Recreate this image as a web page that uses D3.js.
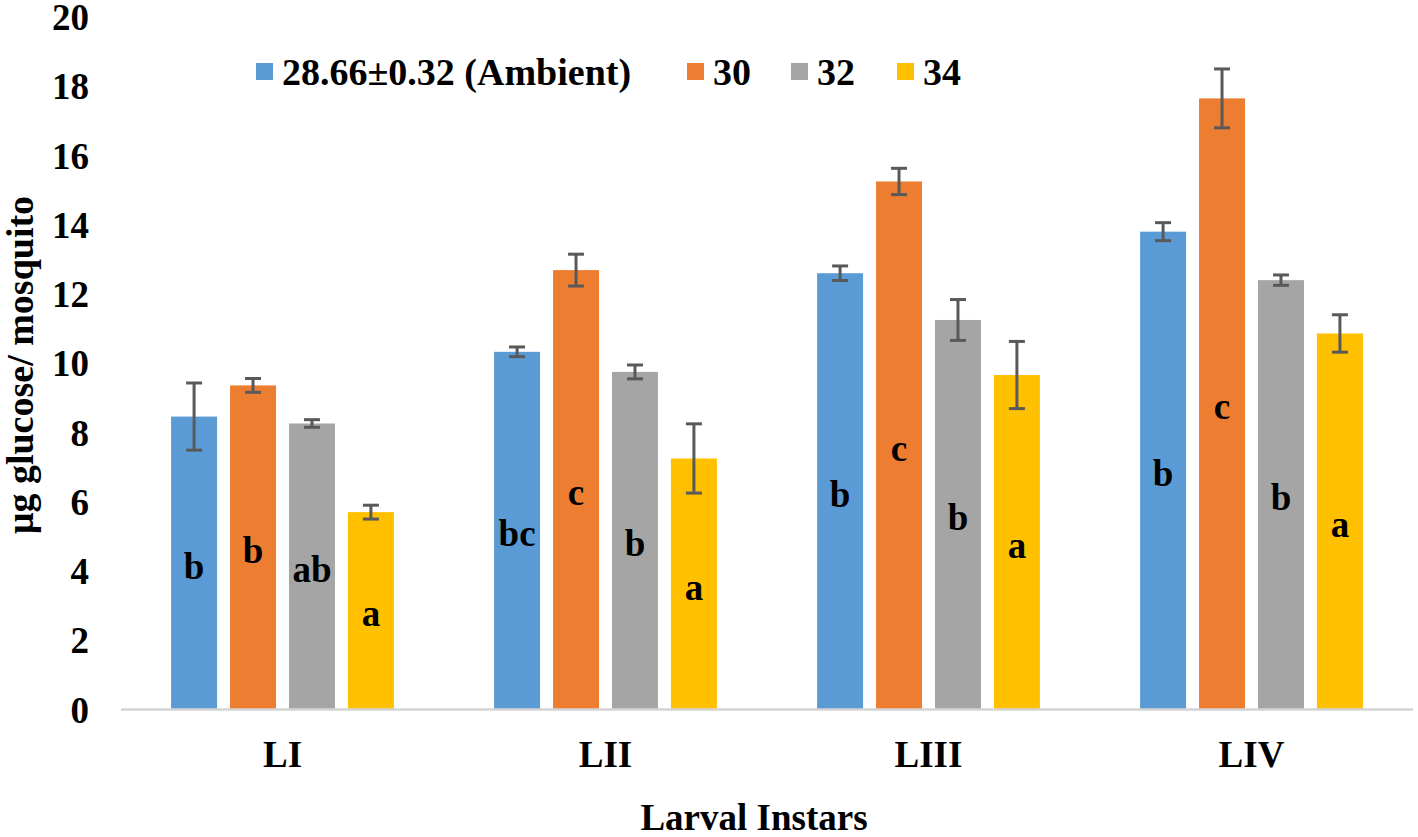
<!DOCTYPE html>
<html>
<head>
<meta charset="utf-8">
<script src="https://cdn.jsdelivr.net/npm/d3@7"></script>
<style>
  html, body { margin: 0; padding: 0; background: #ffffff; }
  svg { display: block; }
  svg text { font-family: 'Liberation Serif', 'Tinos', 'Times New Roman', 'DejaVu Serif', serif !important; font-weight: bold; fill: #000; }
</style>
</head>
<body>
<svg id="chart" width="1418" height="837"></svg>
<script>
// ---- data ----
const categories = ["LI", "LII", "LIII", "LIV"];
const seriesNames = ["28.66\u00B10.32 (Ambient)", "30", "32", "34"];
const seriesColors = ["#5B9BD5", "#ED7D31", "#A5A5A5", "#FFC000"];
const ambientValues = [8.46, 10.33, 12.60, 13.80];
const t30Values = [9.36, 12.69, 15.25, 17.65];
const t32Values = [8.26, 9.75, 11.25, 12.40];
const t34Values = [5.70, 7.25, 9.66, 10.86];
const ambientErr = [0.97, 0.14, 0.21, 0.26];
const t30Err = [0.20, 0.46, 0.38, 0.85];
const t32Err = [0.11, 0.20, 0.59, 0.15];
const t34Err = [0.20, 1.00, 0.97, 0.54];
const ambientLetters = ["b", "bc", "b", "b"];
const t30Letters = ["b", "c", "c", "c"];
const t32Letters = ["ab", "b", "b", "b"];
const t34Letters = ["a", "a", "a", "a"];
const yTicks = [0, 2, 4, 6, 8, 10, 12, 14, 16, 18, 20];
const xTitle = "Larval Instars";
const yTitle = "\u03BCg glucose/ mosquito";

const seriesValues = [ambientValues, t30Values, t32Values, t34Values];
const seriesErr = [ambientErr, t30Err, t32Err, t34Err];
const seriesLetters = [ambientLetters, t30Letters, t32Letters, t34Letters];

// ---- layout ----
const svg = d3.select("#chart");
const plotLeft = 121, plotRight = 1413, plotTop = 17, plotBottom = 709.5;
const fontSize = 37;
const FONT = "'Liberation Serif', 'Times New Roman', serif";

const x0 = d3.scaleBand().domain(categories).range([plotLeft, plotRight]).padding(0);
const x1 = d3.scaleBand().domain(d3.range(seriesNames.length))
  .range([0, x0.bandwidth()]).paddingInner(0.22).paddingOuter(0.85);
const y = d3.scaleLinear().domain([0, 20]).range([plotBottom, plotTop]);

// y tick labels (no axis line)
const yAxis = d3.axisLeft(y).tickValues(yTicks).tickSize(0).tickPadding(0).tickFormat(d3.format("d"));
const yg = svg.append("g").attr("transform", "translate(89,0)").call(yAxis)
  .attr("font-family", FONT);
yg.select(".domain").remove();
yg.selectAll("text")
  .style("font-family", FONT)
  .attr("font-weight", "bold")
  .attr("font-size", fontSize)
  .attr("fill", "#000")
  .attr("dy", "0.34em");

// bars
const rows = [];
seriesNames.forEach((s, si) => {
  categories.forEach((c, ci) => {
    rows.push({ si, ci, c, v: seriesValues[si][ci], e: seriesErr[si][ci], l: seriesLetters[si][ci] });
  });
});

svg.append("g").selectAll("rect").data(rows).join("rect")
  .attr("x", d => x0(d.c) + x1(d.si))
  .attr("y", d => y(d.v))
  .attr("width", x1.bandwidth())
  .attr("height", d => y(0) - y(d.v))
  .attr("fill", d => seriesColors[d.si]);

// x axis baseline
svg.append("line")
  .attr("x1", plotLeft).attr("x2", plotRight)
  .attr("y1", plotBottom).attr("y2", plotBottom)
  .attr("stroke", "#d4d4d4").attr("stroke-width", 2.5);

// error bars
const capHalf = 8;
const eg = svg.append("g").attr("stroke", "#595959").attr("stroke-width", 3);
rows.forEach(d => {
  const cx = x0(d.c) + x1(d.si) + x1.bandwidth() / 2;
  const yt = y(d.v + d.e), yb = y(d.v - d.e);
  eg.append("line").attr("x1", cx).attr("x2", cx).attr("y1", yt).attr("y2", yb);
  eg.append("line").attr("x1", cx - capHalf).attr("x2", cx + capHalf).attr("y1", yt).attr("y2", yt);
  eg.append("line").attr("x1", cx - capHalf).attr("x2", cx + capHalf).attr("y1", yb).attr("y2", yb);
});

// letters inside bars
svg.append("g").selectAll("text").data(rows).join("text")
  .attr("x", d => x0(d.c) + x1(d.si) + x1.bandwidth() / 2)
  .attr("y", d => y(d.v / 2))
  .attr("dy", "0.42em")
  .attr("text-anchor", "middle")
  .attr("font-size", fontSize)
  .style("font-family", FONT)
  .text(d => d.l);

// category labels
svg.append("g").selectAll("text").data(categories).join("text")
  .attr("x", d => x0(d) + x0.bandwidth() / 2)
  .attr("y", 767)
  .attr("text-anchor", "middle")
  .attr("font-size", fontSize)
  .style("font-family", FONT)
  .text(d => d);

// axis titles
svg.append("text")
  .attr("x", 754).attr("y", 830)
  .attr("text-anchor", "middle")
  .attr("font-size", fontSize)
  .style("font-family", FONT)
  .text(xTitle);

svg.append("text")
  .attr("transform", "translate(33,365) rotate(-90)")
  .attr("text-anchor", "middle")
  .attr("font-size", 38)
  .style("font-family", FONT)
  .text(yTitle);

// legend
const legendX = [256, 687, 791, 897];
const legendBaseline = 85, sq = 17;
const legend = svg.append("g");
seriesNames.forEach((name, i) => {
  legend.append("rect")
    .attr("x", legendX[i]).attr("y", legendBaseline - 22)
    .attr("width", sq).attr("height", sq)
    .attr("fill", seriesColors[i]);
  legend.append("text")
    .attr("x", legendX[i] + sq + 9).attr("y", legendBaseline)
    .attr("font-size", 38)
    .style("font-family", FONT)
    .text(name);
});
</script>
</body>
</html>
